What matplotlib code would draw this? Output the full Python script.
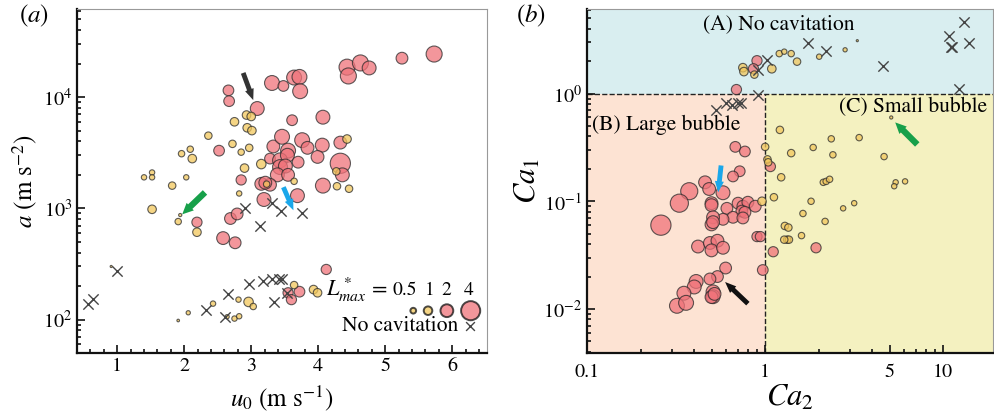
import matplotlib
matplotlib.use("Agg")
import matplotlib.pyplot as plt
import numpy as np
from matplotlib.ticker import FixedLocator, FixedFormatter, NullFormatter, LogLocator

plt.rcParams['font.family'] = ['STIXGeneral', 'DejaVu Sans']
plt.rcParams['mathtext.fontset'] = 'stix'

# ---------------- Panel (a) data ----------------
u0_a = [2.66, 2.67, 3.09, 3.31, 3.48, 3.64, 3.72, 3.73, 3.61, 4.07,
        2.52, 3.33, 3.46, 3.55, 3.76, 3.84, 4.06, 3.99, 3.28, 3.43,
        3.54, 3.43, 3.51, 3.70, 3.39, 3.55,
        4.43, 4.63, 4.45, 4.76, 5.25, 5.73,
        4.33, 4.33, 4.36, 4.07,
        2.85, 3.15, 3.28, 3.21, 3.19, 3.69,
        2.19, 2.69, 2.79, 2.58, 2.76,
        3.55, 3.72, 3.60, 4.12,
        2.75, 2.93, 3.00, 2.94, 3.01, 2.36, 2.72, 2.97, 2.85, 2.09,
        1.96, 2.12, 2.90, 3.15, 1.52, 1.52, 1.40, 2.03, 1.82, 1.52,
        2.82, 3.64, 3.23, 1.91, 1.94, 2.19,
        4.43, 4.27, 4.28, 4.46,
        0.91, 1.91, 2.06, 2.43, 2.64, 2.75, 2.82, 2.81, 2.96, 3.03,
        3.64, 3.93, 3.99]
acc_a = [11500, 9200, 7900, 13400, 12600, 15000, 15200, 11300, 6200, 6600,
         3300, 3600, 4400, 3300, 4100, 3500, 3700, 2900, 2800, 2700,
         3000, 2350, 2400, 2600, 2000, 2000,
         18600, 20300, 15500, 18300, 22400, 24400,
         3900, 2540, 2000, 1600,
         1800, 1660, 1630, 1700, 1200, 1300,
         750, 810, 890, 540, 490,
         174, 178, 151, 282,
         6000, 6900, 6700, 5300, 5000, 4500, 3800, 3500, 3200, 3400,
         3100, 2800, 2300, 2500, 2100, 1900, 1900, 1900, 1600, 980,
         1360, 1750, 1650, 760, 870, 610,
         4200, 2150, 1580, 1500,
         300, 98, 115, 139, 106, 102, 107, 151, 144, 131,
         204, 186, 174]
Lmax_a = [1.47, 1.47, 2.3, 2.6, 1.47, 2.6, 2.6, 2.6, 1.47, 2.3,
          1.47, 2.0, 2.6, 2.6, 2.6, 2.0, 2.3, 2.0, 1.47, 2.6,
          2.3, 2.6, 2.3, 1.73, 2.3, 2.0,
          2.95, 2.95, 2.95, 2.3, 1.73, 2.95,
          2.0, 4.4, 2.3, 2.6,
          1.35, 2.0, 2.0, 2.0, 2.3, 2.3,
          1.35, 1.73, 1.73, 2.0, 1.73,
          1.35, 1.47, 1.35, 1.35,
          1.0, 1.0, 1.0, 1.0, 1.0, 0.79, 0.79, 0.79, 0.61, 0.61,
          0.61, 1.0, 1.0, 1.2, 0.45, 0.45, 0.45, 0.45, 0.79, 1.0,
          0.45, 0.61, 0.61, 0.61, 0.18, 1.0,
          1.0, 0.79, 0.79, 0.79,
          0.09, 0.13, 0.30, 0.45, 0.30, 0.45, 0.45, 0.45, 1.2, 0.61,
          0.79, 1.0, 1.0]

u0_nocav = [2.90, 3.13, 3.31, 3.45, 3.76,
            0.57, 0.64, 1.0, 2.33, 2.66, 2.61, 2.97, 3.18, 3.31, 3.42, 3.46, 3.34, 3.54]
acc_nocav = [1000, 700, 1120, 940, 900,
             138, 152, 276, 123, 170, 105, 207, 224, 233, 233, 233, 145, 174]

# ---------------- Panel (b) data ----------------
ca2_b = [0.90, 0.86, 0.69,
         0.68, 0.77, 0.72, 0.66,
         1.07, 1.93, 1.11, 0.97, 0.90, 0.94,
         0.375, 0.33, 0.46, 0.485, 0.58, 0.26,
         0.50, 0.50,
         0.61, 0.705, 0.75, 0.80, 0.88, 0.74, 0.77, 0.66, 0.75, 0.58,
         0.51, 0.50, 0.51,
         0.42, 0.49, 0.54, 0.50, 0.58,
         0.60, 0.54, 0.49,
         0.41, 0.40, 0.35, 0.32, 0.36, 0.51, 0.51, 0.50, 0.52,
         0.75, 0.76, 0.87, 1.09, 1.2, 1.28, 1.40, 1.51, 2.01, 2.81, 3.29,
         5.1, 1.21, 2.35, 3.37, 1.86, 2.4, 1.40, 4.65, 1.0, 1.03, 1.04,
         1.23, 2.12, 2.2, 2.3, 5.4, 6.1, 5.3, 1.12, 1.81, 3.16, 0.96,
         1.63, 2.74, 2.17, 1.29, 1.35, 1.33, 1.36, 1.28, 1.6]
ca1_b = [2.02, 1.70, 1.09,
         0.32, 0.29, 0.19, 0.17,
         0.21, 0.037, 0.034, 0.023, 0.047, 0.047,
         0.124, 0.096, 0.15, 0.13, 0.12, 0.06,
         0.096, 0.092,
         0.086, 0.096, 0.09, 0.098, 0.09, 0.081, 0.079, 0.071, 0.07, 0.068,
         0.071, 0.061, 0.064,
         0.038, 0.041, 0.043, 0.035, 0.037,
         0.024, 0.020, 0.019,
         0.018, 0.016, 0.014, 0.0107, 0.0114, 0.0144, 0.013, 0.0129, 0.0138,
         1.74, 1.6, 1.5, 1.70, 2.35, 2.45, 2.35, 1.98, 2.2, 2.55, 3.1,
         0.60, 0.46, 0.38, 0.39, 0.316, 0.27, 0.28, 0.26, 0.32, 0.245, 0.23,
         0.167, 0.15, 0.153, 0.16, 0.15, 0.153, 0.138, 0.109, 0.1, 0.096, 0.1,
         0.077, 0.086, 0.065, 0.059, 0.057, 0.044, 0.044, 0.044, 0.048]
Lmax_b = [1.35, 1.35, 1.35,
          1.47, 1.47, 1.47, 1.47,
          1.35, 1.35, 1.35, 1.47, 1.35, 1.35,
          3.3, 3.65, 2.0, 2.0, 2.3, 4.4,
          2.0, 2.0,
          1.73, 1.73, 1.73, 1.73, 1.73, 1.73, 1.73, 1.73, 1.73, 1.73,
          2.0, 2.0, 2.0,
          2.0, 2.0, 2.0, 2.0, 2.0,
          1.73, 1.73, 1.73,
          2.3, 2.3, 2.3, 2.6, 2.6, 2.3, 2.3, 2.0, 2.0,
          1.0, 1.0, 0.79, 1.0, 0.61, 0.45, 0.61, 0.79, 0.45, 0.30, 0.09,
          0.18, 0.79, 0.61, 0.61, 0.61, 0.61, 0.79, 0.61, 0.79, 0.79, 0.79,
          0.79, 0.61, 0.61, 0.61, 0.45, 0.45, 0.45, 0.79, 0.61, 0.45, 1.0,
          0.61, 0.45, 0.61, 0.79, 0.79, 0.79, 0.79, 0.79, 0.61]

ca2_nocav = [1.03, 0.91, 0.91, 0.53, 0.60, 0.65, 0.70, 0.73,
             1.74, 2.2, 4.6, 13.1, 10.8, 11.0, 11.2, 14.0, 12.3]
ca1_nocav = [2.06, 1.67, 0.96, 0.70, 0.82, 0.79, 0.82, 0.82,
             2.96, 2.5, 1.82, 4.6, 3.4, 2.7, 2.7, 2.96, 1.11]

legend_L = [0.5, 1, 2, 4]

RED = '#f0737a'
YEL = '#f2c75c'
EDGE = '#2a2a2a'


def sizes(L):
    return 38.0 * np.power(np.asarray(L, dtype=float), 1.16)


def colors(L):
    return [RED if v >= 1.3 else YEL for v in L]


def style_axes(ax):
    for s in ['left', 'bottom']:
        ax.spines[s].set_linewidth(1.6)
        ax.spines[s].set_color('#111111')
    for s in ['top', 'right']:
        ax.spines[s].set_linewidth(0.8)
        ax.spines[s].set_color('#999999')
    ax.tick_params(which='both', direction='in', top=False, right=False,
                   labelsize=14.5, width=1.2, color='#111111')
    ax.tick_params(which='major', length=6)
    ax.tick_params(which='minor', length=3)


def arrow(ax, head, tail, color, hw=0.65, hl=0.8, tw=0.35):
    ax.annotate('', xy=head, xytext=tail,
                arrowprops=dict(arrowstyle=f'simple,head_width={hw},head_length={hl},tail_width={tw}',
                                color=color, lw=0, shrinkA=0, shrinkB=0),
                zorder=6)


fig = plt.figure(figsize=(9.94, 4.19), dpi=100)

# ---------------- Panel (a) ----------------
ax1 = fig.add_axes([0.0775, 0.1575, 0.4125, 0.821])
ax1.set_yscale('log')
ax1.set_xlim(0.4, 6.52)
ax1.set_ylim(50, 62000)
ax1.scatter(u0_a, acc_a, s=sizes(Lmax_a), c=colors(Lmax_a), alpha=0.75,
            edgecolors=EDGE, linewidths=0.8, zorder=3)
ax1.scatter(u0_nocav, acc_nocav, marker='x', s=55, c='#444444',
            linewidths=1.0, zorder=4)
ax1.xaxis.set_major_locator(FixedLocator([1, 2, 3, 4, 5, 6]))
ax1.xaxis.set_minor_locator(FixedLocator(np.arange(0.4, 6.6, 0.2)))
ax1.yaxis.set_minor_formatter(NullFormatter())
style_axes(ax1)
ax1.set_xlabel(r'$u_0$ (m s$^{-1}$)', fontsize=18, labelpad=6)
ax1.set_ylabel(r'$a$ (m s$^{-2}$)', fontsize=18, labelpad=2)

# arrows panel (a)
arrow(ax1, (3.03, 9400), (2.88, 16500), '#333333')
arrow(ax1, (3.63, 960), (3.48, 1550), '#1aa7ea')
arrow(ax1, (1.97, 883), (2.31, 1390), '#17a04a', hw=0.75, hl=0.8, tw=0.45)

# legend panel (a)
ax1.text(0.757, 0.183, r'$L^*_{max}$ =', transform=ax1.transAxes,
         ha='right', va='center', fontsize=16)
leg_x = [0.82, 0.856, 0.902, 0.96]
txt_x = [0.80, 0.859, 0.901, 0.955]
for xx, L in zip(txt_x, legend_L):
    ax1.text(xx, 0.183, f'{L:g}', transform=ax1.transAxes, ha='center',
             va='center', fontsize=14)
ax1.scatter(leg_x, [0.123] * 4, s=sizes(legend_L), c=colors(legend_L),
            alpha=0.75, edgecolors='#111111', linewidths=1.4,
            transform=ax1.transAxes, zorder=5, clip_on=False)
ax1.text(0.93, 0.078, 'No cavitation', transform=ax1.transAxes,
         ha='right', va='center', fontsize=15.5)
ax1.scatter([0.959], [0.078], marker='x', s=40, c='#444444', linewidths=1.0,
            transform=ax1.transAxes, clip_on=False)

fig.text(0.034, 0.962, '($a$)', fontsize=18, ha='center', va='center')

# ---------------- Panel (b) ----------------
ax2 = fig.add_axes([0.5905, 0.1575, 0.4085, 0.821])
ax2.set_xscale('log')
ax2.set_yscale('log')
x0, x1 = 0.1, 19.0
y0, y1 = 0.0039, 6.1
ax2.set_xlim(x0, x1)
ax2.set_ylim(y0, y1)
ax2.fill_between([x0, x1], [1, 1], [y1, y1], color='#d9eef0', lw=0, zorder=0)
ax2.fill_between([x0, 1], [y0, y0], [1, 1], color='#fde3d3', lw=0, zorder=0)
ax2.fill_between([1, x1], [y0, y0], [1, 1], color='#f4f1c0', lw=0, zorder=0)
ax2.plot([x0, x1], [1, 1], ls='--', color='#222222', lw=1.0, zorder=1)
ax2.plot([1, 1], [y0, 1], ls='--', color='#222222', lw=1.0, zorder=1)

ax2.scatter(ca2_b, ca1_b, s=sizes(Lmax_b), c=colors(Lmax_b), alpha=0.75,
            edgecolors=EDGE, linewidths=0.8, zorder=3)
ax2.scatter(ca2_nocav, ca1_nocav, marker='x', s=55, c='#444444',
            linewidths=1.0, zorder=4)

ax2.xaxis.set_major_locator(FixedLocator([0.1, 1, 5, 10]))
ax2.xaxis.set_major_formatter(FixedFormatter(['0.1', '1', '5', '10']))
ax2.xaxis.set_minor_locator(LogLocator(base=10, subs=np.arange(2, 10)))
ax2.xaxis.set_minor_formatter(NullFormatter())
ax2.yaxis.set_minor_formatter(NullFormatter())
style_axes(ax2)
ax2.tick_params(axis='x', which='major', pad=8)
ax2.set_xlabel(r'$Ca_2$', fontsize=22, labelpad=2)
ax2.set_ylabel(r'$Ca_1$', fontsize=22, labelpad=0)

ax2.text(0.286, 0.955, '(A) No cavitation', transform=ax2.transAxes,
         fontsize=15.5, ha='left', va='center')
ax2.text(0.013, 0.663, '(B) Large bubble', transform=ax2.transAxes,
         fontsize=15.5, ha='left', va='center')
ax2.text(0.62, 0.715, '(C) Small bubble', transform=ax2.transAxes,
         fontsize=15.5, ha='left', va='center')

arrow(ax2, (0.545, 0.121), (0.566, 0.215), '#1aa7ea')
arrow(ax2, (0.596, 0.0178), (0.80, 0.0112), '#111111')
arrow(ax2, (5.37, 0.54), (7.14, 0.337), '#17a04a', hw=0.75, hl=0.8, tw=0.45)

fig.text(0.534, 0.962, '($b$)', fontsize=18, ha='center', va='center')

fig.savefig('out.png', dpi=100)
